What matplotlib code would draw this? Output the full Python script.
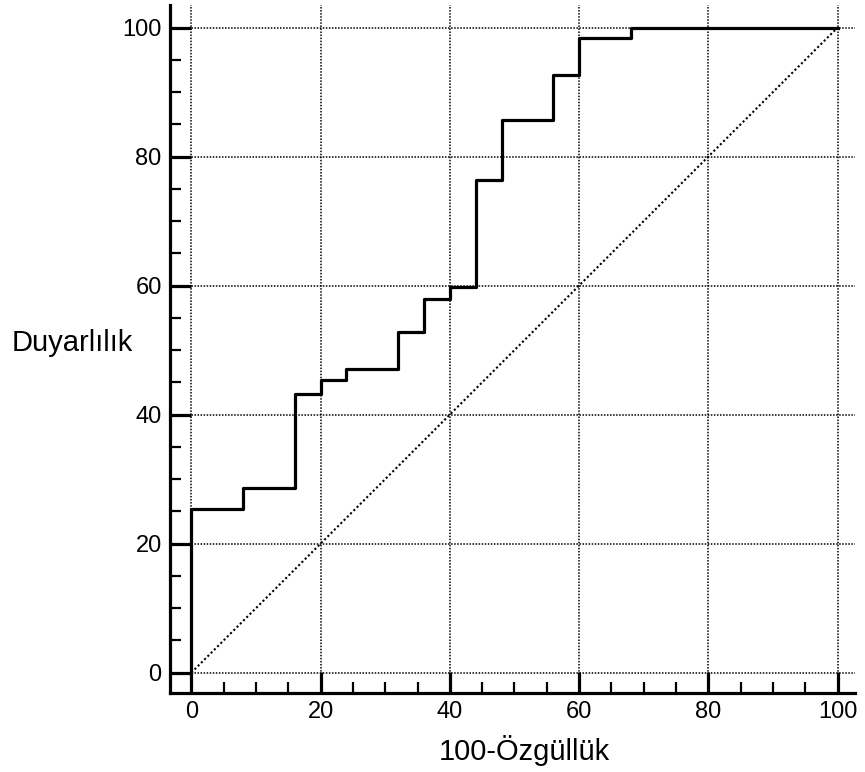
import matplotlib.pyplot as plt
from matplotlib.ticker import MultipleLocator

# ROC curve values
fpr = [0, 0, 8, 16, 20, 24, 32, 36, 40, 44, 48, 56, 60, 68, 100]
tpr = [0, 25.4, 28.7, 43.2, 45.4, 47.1, 52.8, 58.0, 59.8, 76.4, 85.7, 92.7, 98.4, 100, 100]
ref_line = [0, 100]
ticks = [0, 20, 40, 60, 80, 100]

plt.rcParams['font.family'] = ['Liberation Sans', 'DejaVu Sans']

fig = plt.figure(figsize=(8.65, 7.72), dpi=100)
ax = fig.add_axes([170 / 865, 1 - 693 / 772, 685 / 865, 688 / 772])

ax.step(fpr, tpr, where='post', color='black', lw=2.3, zorder=3)
ax.plot(ref_line, ref_line, color='black', lw=1.5, linestyle=(0, (1, 1.2)), zorder=2)

ax.set_xlim(-3.3, 102.7)
ax.set_ylim(-3.15, 103.5)

ax.set_xticks(ticks)
ax.set_yticks(ticks)
ax.xaxis.set_minor_locator(MultipleLocator(5))
ax.yaxis.set_minor_locator(MultipleLocator(5))

ax.grid(True, which='major', color='black', lw=1.1, linestyle=(0, (1, 1)))

for side in ['top', 'right']:
    ax.spines[side].set_visible(False)
for side in ['left', 'bottom']:
    ax.spines[side].set_linewidth(2.3)

ax.tick_params(which='major', direction='in', length=15, width=2.3, labelsize=17, pad=6)
ax.tick_params(which='minor', direction='in', length=8, width=1.6)

fig.text(12 / 865, 1 - 343 / 772, 'Duyarlılık', fontsize=21, ha='left', va='center')
fig.text(524 / 865, 1 - 750 / 772, '100-Özgüllük', fontsize=21, ha='center', va='center')

fig.savefig('out.png', dpi=100)
